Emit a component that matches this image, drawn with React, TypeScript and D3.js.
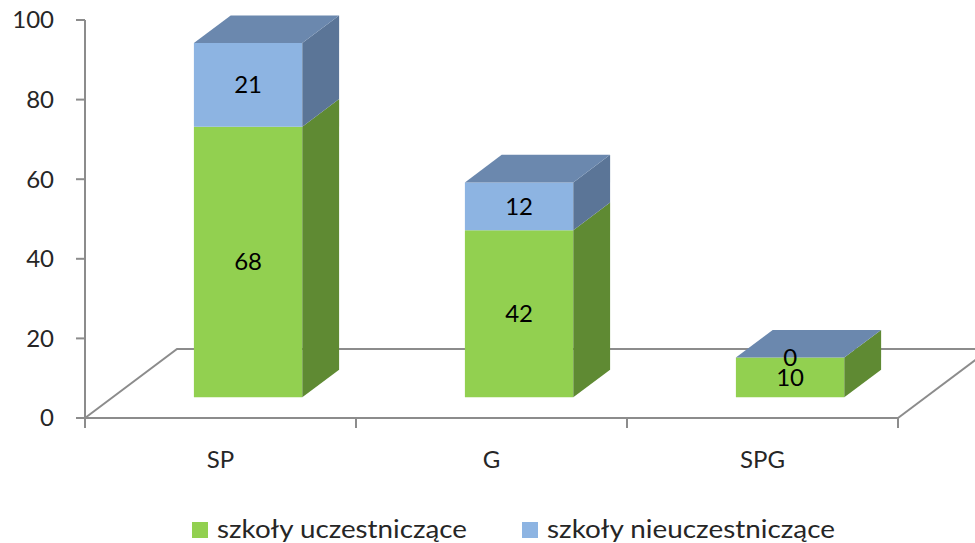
import React from 'react';
import * as d3 from 'd3';

const categories = ['SP', 'G', 'SPG'];
const uczestniczace = [68, 42, 10];
const nieuczestniczace = [21, 12, 0];
const seriesNames = ['szkoły uczestniczące', 'szkoły nieuczestniczące'];
const yTicks = [0, 20, 40, 60, 80, 100];

const colors = [
  { front: '#92d050', side: '#5f8a33', top: '#78ab42' },
  { front: '#8db4e2', side: '#5b7597', top: '#6b88ae' },
];

const W = 975;
const H = 543;
const font = 'Lato, "Open Sans", sans-serif';
const axisColor = '#8c8c8c';

// floor depth vector (front edge -> back edge)
const depthX = 92;
const depthY = -69;
const zFront = 0.3;
const zBack = 0.7;

const legendX = [192, 522];
const legendW = [250, 288];

const App = () => {
  const y = d3.scaleLinear().domain([0, 100]).range([418, 20]);
  const x = d3.scaleBand().domain(categories).range([85, 898]).paddingInner(0).paddingOuter(0);
  const bw = x.bandwidth();

  const p = (px: number, v: number, z: number): [number, number] => [px + depthX * z, y(v) + depthY * z];
  const poly = (pts: [number, number][]) => pts.map(d => d.join(',')).join(' ');

  const stacked = d3.stack<any, any, number>().keys([0, 1])(
    categories.map((c, i) => ({ cat: c, 0: uczestniczace[i], 1: nieuczestniczace[i] }))
  );

  const x0 = y(0);
  const floorLeft = 85;
  const floorRight = 898;

  return (
    <>
      <style>{`body{margin:0}`}</style>
      <svg width={W} height={H} style={{ display: 'block', background: '#fff' }}>
        {/* floor */}
        <g stroke={axisColor} strokeWidth={2} fill="none">
          <polyline points={poly([
            [floorLeft, x0],
            [floorLeft + depthX, x0 + depthY],
            [floorRight + depthX, x0 + depthY],
          ])} />
          <line x1={floorRight} y1={x0} x2={floorRight + depthX} y2={x0 + depthY} />
          <line x1={floorLeft} y1={x0} x2={floorRight} y2={x0} />
          <line x1={floorLeft} y1={y(100)} x2={floorLeft} y2={x0} />
          {yTicks.map(t => (
            <line key={t} x1={floorLeft - 9} x2={floorLeft} y1={y(t)} y2={y(t)} />
          ))}
          {[...categories.map(c => x(c)!), floorRight].map((t, i) => (
            <line key={i} x1={t} x2={t} y1={x0} y2={x0 + 10} />
          ))}
        </g>
        {yTicks.map(t => (
          <text key={t} x={54} y={y(t)} dy="0.35em" textAnchor="end" fontFamily={font} fontSize={24} fill="#262626">
            {t}
          </text>
        ))}
        {categories.map(c => (
          <text key={c} x={x(c)! + bw / 2} y={468} textAnchor="middle" fontFamily={font} fontSize={24} fill="#262626">
            {c}
          </text>
        ))}

        {/* bars */}
        {categories.map((c, i) => {
          const left = x(c)! + bw * 0.3;
          const right = x(c)! + bw * 0.7;
          const segs = stacked.map((s, k) => ({ k, lo: s[i][0], hi: s[i][1] }));
          const topSeg = segs[segs.length - 1];
          return (
            <g key={c}>
              {segs.map(({ k, lo, hi }) => (
                <g key={k}>
                  <polygon fill={colors[k].front} points={poly([
                    p(left, lo, zFront), p(right, lo, zFront), p(right, hi, zFront), p(left, hi, zFront),
                  ])} />
                  <polygon fill={colors[k].side} points={poly([
                    p(right, lo, zFront), p(right, lo, zBack), p(right, hi, zBack), p(right, hi, zFront),
                  ])} />
                </g>
              ))}
              <polygon fill={colors[topSeg.k].top} points={poly([
                p(left, topSeg.hi, zFront), p(right, topSeg.hi, zFront), p(right, topSeg.hi, zBack), p(left, topSeg.hi, zBack),
              ])} />
              {segs.map(({ k, lo, hi }) => {
                const [lx, ly] = p((left + right) / 2, (lo + hi) / 2, zFront);
                return (
                  <text key={k} x={lx} y={ly} dy="0.35em" textAnchor="middle" fontFamily={font} fontSize={24} fill="#000">
                    {hi - lo}
                  </text>
                );
              })}
            </g>
          );
        })}

        {/* legend */}
        {seriesNames.map((n, k) => (
          <g key={n}>
            <rect x={legendX[k]} y={522} width={16} height={16} fill={colors[k].front} />
            <text x={legendX[k] + 25} y={538} fontFamily={font} fontSize={25} fill="#262626"
              textLength={legendW[k]} lengthAdjust="spacingAndGlyphs">
              {n}
            </text>
          </g>
        ))}
      </svg>
    </>
  );
};

export default App;
